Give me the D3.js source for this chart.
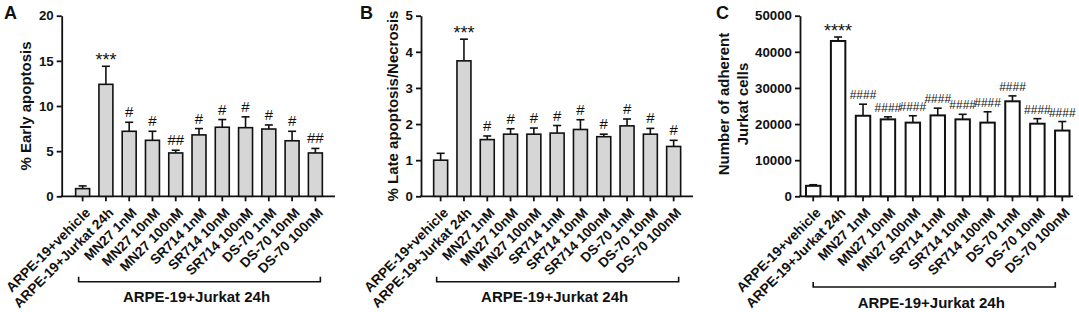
<!DOCTYPE html>
<html>
<head>
<meta charset="utf-8">
<script src="https://cdn.jsdelivr.net/npm/d3@7/dist/d3.min.js"></script>
<style>
  body { margin: 0; background: #fff; }
  svg { display: block; font-family: "Liberation Sans", Arial, sans-serif; }
</style>
</head>
<body>
<svg id="chart" width="1079" height="312"></svg>
<script>
// --- datos ---
const groups = ["ARPE-19+vehicle", "ARPE-19+Jurkat 24h", "MN27 1nM", "MN27 10nM", "MN27 100nM",
  "SR714 1nM", "SR714 10nM", "SR714 100nM", "DS-70 1nM", "DS-70 10nM", "DS-70 100nM"];

const earlyMean = [0.85, 12.4, 7.2, 6.2, 4.8, 6.8, 7.65, 7.6, 7.45, 6.15, 4.8];
const earlyErr  = [0.3, 2.0, 1.0, 1.0, 0.3, 0.7, 0.85, 1.2, 0.45, 1.05, 0.5];
const earlySig  = ["", "***", "#", "#", "##", "#", "#", "#", "#", "#", "##"];
const earlyTicks = [0, 5, 10, 15, 20];

const lateMean = [1.0, 3.75, 1.57, 1.72, 1.72, 1.75, 1.85, 1.65, 1.95, 1.72, 1.38];
const lateErr  = [0.19, 0.6, 0.1, 0.15, 0.17, 0.21, 0.27, 0.07, 0.19, 0.16, 0.17];
const lateSig  = ["", "***", "#", "#", "#", "#", "#", "#", "#", "#", "#"];
const lateTicks = [0, 1, 2, 3, 4, 5];

const adherentMean = [2900, 43000, 22300, 21300, 20400, 22400, 21300, 20400, 26300, 20100, 18200];
const adherentErr  = [300, 1100, 3200, 700, 1900, 2000, 1400, 3000, 1500, 1400, 2500];
const adherentSig  = ["", "****", "####", "####", "####", "####", "####", "####", "####", "####", "####"];
const adherentTicks = [0, 10000, 20000, 30000, 40000, 50000];

const bracketLabel = "ARPE-19+Jurkat 24h";

const svg = d3.select("#chart");

// --- un panel de barras ---
function drawPanel(cfg) {
  const g = svg.append("g");
  const y0 = 196.3, yTop = 15.7;

  const x = d3.scaleBand()
    .domain(groups)
    .range(cfg.band)
    .paddingInner(cfg.padInner)
    .paddingOuter(0.2);

  const y = d3.scaleLinear()
    .domain([0, d3.max(cfg.ticks)])
    .range([y0, yTop]);

  const cx = d => x(d) + x.bandwidth() / 2;
  const rows = groups.map((d, i) => ({ name: d, mean: cfg.mean[i], err: cfg.err[i], sig: cfg.sig[i] }));

  // eje Y
  const yAxis = g.append("g")
    .attr("transform", `translate(${cfg.axisX},0)`)
    .call(d3.axisLeft(y).tickValues(cfg.ticks).tickFormat(d3.format("d"))
      .tickSize(5).tickPadding(3).tickSizeOuter(0));
  yAxis.selectAll("path, line").attr("stroke", "#111").attr("stroke-width", 1.8);
  yAxis.selectAll("text")
    .attr("fill", "#111")
    .style("font-size", "13.3px")
    .style("font-weight", "bold");

  // eje X
  g.append("line")
    .attr("x1", cfg.axisX - 0.9).attr("x2", cfg.axisEnd)
    .attr("y1", y0).attr("y2", y0)
    .attr("stroke", "#111").attr("stroke-width", 1.8);

  const xAxis = g.append("g")
    .attr("transform", `translate(0,${y0})`)
    .call(d3.axisBottom(x).tickSize(5).tickFormat(""));
  xAxis.select(".domain").remove();
  xAxis.selectAll("line").attr("stroke", "#111").attr("stroke-width", 1.8);

  g.selectAll(".xlab")
    .data(rows)
    .enter().append("text")
    .attr("class", "xlab")
    .attr("transform", d => `translate(${cx(d.name) + 5},${y0 + 14}) rotate(-45)`)
    .attr("text-anchor", "end")
    .attr("dy", "0.35em")
    .style("font-size", "13.7px")
    .style("font-weight", "bold")
    .attr("fill", "#111")
    .text(d => d.name);

  // barras de error (solo hacia arriba)
  const eb = g.selectAll(".err").data(rows).enter().append("g").attr("class", "err");
  eb.append("line")
    .attr("x1", d => cx(d.name))
    .attr("x2", d => cx(d.name))
    .attr("y1", d => y(d.mean))
    .attr("y2", d => y(d.mean + d.err))
    .attr("stroke", "#111").attr("stroke-width", 1.6);
  eb.append("line")
    .attr("x1", d => cx(d.name) - 4)
    .attr("x2", d => cx(d.name) + 4)
    .attr("y1", d => y(d.mean + d.err))
    .attr("y2", d => y(d.mean + d.err))
    .attr("stroke", "#111").attr("stroke-width", 1.6);

  // barras
  g.selectAll(".bar")
    .data(rows)
    .enter().append("rect")
    .attr("class", "bar")
    .attr("x", d => x(d.name))
    .attr("width", x.bandwidth())
    .attr("y", d => y(d.mean))
    .attr("height", d => y0 - y(d.mean))
    .attr("fill", cfg.fill)
    .attr("stroke", "#111")
    .attr("stroke-width", cfg.barStroke);

  // significancia
  g.selectAll(".sig")
    .data(rows.filter(d => d.sig))
    .enter().append("text")
    .attr("class", "sig")
    .attr("x", d => cx(d.name))
    .attr("y", d => y(d.mean + d.err) - (d.sig.includes("*") ? 0 : 5))
    .attr("text-anchor", "middle")
    .style("font-size", d => d.sig.includes("#") ? cfg.hashSize : "18px")
    .attr("fill", "#111")
    .text(d => d.sig);

  // título del eje Y (una línea por elemento)
  cfg.title.forEach((line, i) => {
    g.append("text")
      .attr("transform", `translate(${cfg.titleX[i]},${cfg.titleY}) rotate(-90)`)
      .attr("text-anchor", "middle")
      .attr("dy", "0.35em")
      .style("font-size", "15px")
      .style("font-weight", "bold")
      .attr("fill", "#111")
      .text(line);
  });

  // corchete
  const bx0 = cx(groups[0]) + cfg.bracket[0];
  const bx1 = cx(groups[groups.length - 1]) + cfg.bracket[1];
  const by = cfg.bracket[2];
  g.append("path")
    .attr("d", `M${bx0},${by - 5}V${by}H${bx1}V${by - 5}`)
    .attr("fill", "none")
    .attr("stroke", "#111")
    .attr("stroke-width", 1.6);
  g.append("text")
    .attr("x", (bx0 + bx1) / 2 - cfg.bracketShift)
    .attr("y", by + cfg.bracketGap)
    .attr("text-anchor", "middle")
    .style("font-size", "15px")
    .style("font-weight", "bold")
    .attr("fill", "#111")
    .text(bracketLabel);

  // letra del panel
  g.append("text")
    .attr("x", cfg.letterX)
    .attr("y", 19)
    .style("font-size", "18px")
    .style("font-weight", "bold")
    .attr("fill", "#111")
    .text(cfg.letter);
}

drawPanel({
  letter: "A", letterX: 4,
  mean: earlyMean, err: earlyErr, sig: earlySig, ticks: earlyTicks,
  axisX: 61.7, axisEnd: 335, band: [71, 327], padInner: 0.4,
  fill: "#d6d6d6", barStroke: 1.6, hashSize: "15px",
  title: ["% Early apoptosis"], titleX: [26], titleY: 106,
  bracket: [-4, 5, 281.7], bracketShift: 3, bracketGap: 20
});

drawPanel({
  letter: "B", letterX: 360,
  mean: lateMean, err: lateErr, sig: lateSig, ticks: lateTicks,
  axisX: 421, axisEnd: 693, band: [429, 685.3], padInner: 0.4,
  fill: "#d6d6d6", barStroke: 1.6, hashSize: "15px",
  title: ["% Late apoptosis/Necrosis"], titleX: [393], titleY: 106,
  bracket: [-4, 5, 281.7], bracketShift: 3, bracketGap: 20
});

drawPanel({
  letter: "C", letterX: 716,
  mean: adherentMean, err: adherentErr, sig: adherentSig, ticks: adherentTicks,
  axisX: 800, axisEnd: 1073, band: [801, 1074.5], padInner: 0.42,
  fill: "#ffffff", barStroke: 2, hashSize: "12px",
  title: ["Number of adherent", "Jurkat cells"], titleX: [724, 743], titleY: 104,
  bracket: [0, -7, 287], bracketShift: 3, bracketGap: 20.5
});
</script>
</body>
</html>
